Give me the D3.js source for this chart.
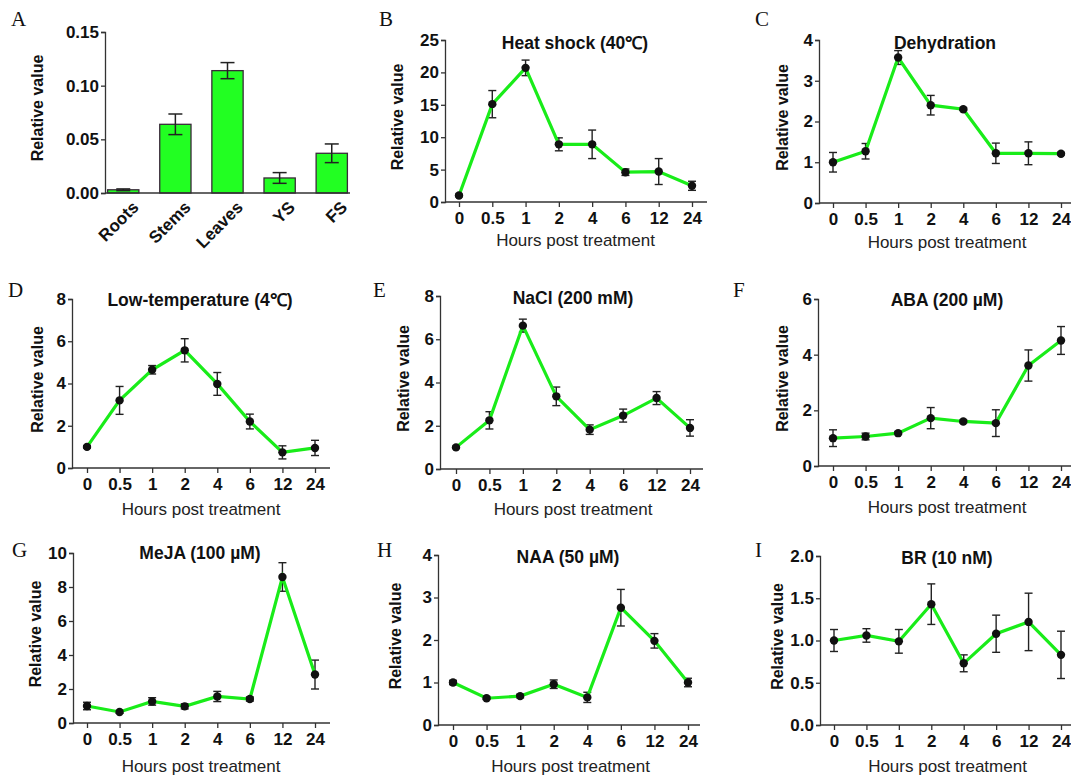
<!doctype html>
<html>
<head>
<meta charset="utf-8">
<script src="https://d3js.org/d3.v7.min.js"></script>
<style>
    body { margin: 0; background: #fff; }
    text { font-family: "Liberation Sans", Arial, sans-serif; }
    .tick text { font-size: 17px; font-weight: bold; fill: #111; }
    .domain, .tick line { stroke: #333; stroke-width: 1.3px; }
    .plabel { font-family: "Liberation Serif", "Times New Roman", serif; font-size: 21px; fill: #111; }
</style>
</head>
<body>
<svg width="1071" height="778"></svg>
<script>
    // tick labels and categories
    var hours = ["0", "0.5", "1", "2", "4", "6", "12", "24"];
    var tissues = ["Roots", "Stems", "Leaves", "YS", "FS"];

    // panel A
    var tissueMean = [0.003, 0.064, 0.114, 0.014, 0.037];
    var tissueErr = [0.0008, 0.0096, 0.0075, 0.005, 0.0087];
    var tissueTicks = [0, 0.05, 0.10, 0.15];

    // panels B-I
    var heatMean = [1.0, 15.1, 20.7, 8.9, 8.9, 4.6, 4.7, 2.5];
    var heatErr = [0.2, 2.1, 1.2, 1.0, 2.2, 0.5, 2.0, 0.7];
    var heatTicks = [0, 5, 10, 15, 20, 25];

    var dehyMean = [1.0, 1.27, 3.57, 2.4, 2.3, 1.22, 1.22, 1.21];
    var dehyErr = [0.24, 0.19, 0.17, 0.24, 0.03, 0.25, 0.28, 0.03];
    var dehyTicks = [0, 1, 2, 3, 4];

    var coldMean = [1.0, 3.2, 4.65, 5.57, 3.98, 2.2, 0.74, 0.95];
    var coldErr = [0.05, 0.66, 0.2, 0.55, 0.54, 0.35, 0.31, 0.36];
    var coldTicks = [0, 2, 4, 6, 8];

    var naclMean = [1.0, 2.25, 6.63, 3.36, 1.82, 2.47, 3.28, 1.9];
    var naclErr = [0.05, 0.4, 0.3, 0.43, 0.22, 0.3, 0.3, 0.38];
    var naclTicks = [0, 2, 4, 6, 8];

    var abaMean = [1.0, 1.06, 1.18, 1.72, 1.6, 1.54, 3.61, 4.51];
    var abaErr = [0.3, 0.12, 0.05, 0.38, 0.05, 0.48, 0.56, 0.5];
    var abaTicks = [0, 2, 4, 6];

    var mejaMean = [1.0, 0.65, 1.27, 0.98, 1.56, 1.41, 8.59, 2.85];
    var mejaErr = [0.22, 0.08, 0.22, 0.15, 0.3, 0.12, 0.84, 0.85];
    var mejaTicks = [0, 2, 4, 6, 8, 10];

    var naaMean = [1.0, 0.63, 0.68, 0.96, 0.65, 2.76, 1.98, 1.0];
    var naaErr = [0.05, 0.03, 0.04, 0.1, 0.12, 0.43, 0.17, 0.1];
    var naaTicks = [0, 1, 2, 3, 4];

    var brMean = [1.0, 1.06, 0.99, 1.43, 0.73, 1.08, 1.22, 0.83];
    var brErr = [0.13, 0.08, 0.14, 0.24, 0.1, 0.22, 0.34, 0.28];
    var brTicks = [0, 0.5, 1.0, 1.5, 2.0];

    var green = "#19ec19";
    var svg = d3.select("svg");

    function yAxisLabel(x, y) {
        svg.append("text")
           .attr("transform", "translate(" + x + "," + y + ") rotate(-90)")
           .attr("dy", "0.35em")
           .attr("text-anchor", "middle")
           .attr("font-size", "16px")
           .attr("font-weight", "bold")
           .attr("fill", "#111")
           .text("Relative value");
    }

    function panelLabel(x, y, s) {
        svg.append("text").attr("class", "plabel").attr("x", x).attr("y", y).text(s);
    }

    // ---- panel A: bars ----
    (function() {
        var ax = 105, top = 32, bottom = 193, end = 350;
        var x = d3.scaleBand().domain(tissues).range([ax, end]).paddingInner(0.4).paddingOuter(0.05);
        var y = d3.scaleLinear().domain([0, 0.15]).range([bottom, top]);
        var g = svg.append("g");

        g.append("g")
         .attr("transform", "translate(" + ax + ",0)")
         .call(d3.axisLeft(y).tickValues(tissueTicks).tickFormat(d3.format(".2f")).tickSize(4).tickSizeOuter(4).tickPadding(2));

        g.selectAll(".bar")
         .data(tissues)
         .enter().append("rect")
         .attr("x", function(d) { return x(d); })
         .attr("y", function(d, i) { return y(tissueMean[i]); })
         .attr("width", x.bandwidth())
         .attr("height", function(d, i) { return bottom - y(tissueMean[i]); })
         .attr("fill", "#22ff22")
         .attr("stroke", "#3a2a3a")
         .attr("stroke-width", 1.3);

        var eb = g.selectAll(".err").data(tissues).enter().append("g");
        eb.append("line")
          .attr("x1", function(d) { return x(d) + x.bandwidth() / 2; })
          .attr("x2", function(d) { return x(d) + x.bandwidth() / 2; })
          .attr("y1", function(d, i) { return y(tissueMean[i] - tissueErr[i]); })
          .attr("y2", function(d, i) { return y(tissueMean[i] + tissueErr[i]); });
        [1, -1].forEach(function(s) {
            eb.append("line")
              .attr("x1", function(d) { return x(d) + x.bandwidth() / 2 - 7; })
              .attr("x2", function(d) { return x(d) + x.bandwidth() / 2 + 7; })
              .attr("y1", function(d, i) { return y(tissueMean[i] + s * tissueErr[i]); })
              .attr("y2", function(d, i) { return y(tissueMean[i] + s * tissueErr[i]); });
        });
        eb.selectAll("line").attr("stroke", "#222").attr("stroke-width", 1.5);

        g.append("line")
         .attr("x1", ax).attr("x2", end).attr("y1", bottom).attr("y2", bottom)
         .attr("stroke", "#333").attr("stroke-width", 1.3);

        g.selectAll(".cat")
         .data(tissues)
         .enter().append("text")
         .attr("transform", function(d) { return "translate(" + (x(d) + x.bandwidth() / 2 + 8) + "," + (bottom + 7) + ") rotate(-45)"; })
         .attr("text-anchor", "end")
         .attr("dy", "0.7em")
         .attr("font-size", "17px")
         .attr("font-weight", "bold")
         .attr("fill", "#111")
         .text(function(d) { return d; });

        yAxisLabel(37, 108);
        panelLabel(11, 26, "A");
    })();

    // ---- panels B-I: lines ----
    var panels = [
        { id: "B", title: "Heat shock (40℃)", mean: heatMean, err: heatErr, ticks: heatTicks, fmt: "d",
          ax: 445, top: 40, bottom: 202, x0: 459, x1: 692, end: 707, tx: 575, ty: 49, lx: 397, xt: 246, px: 379, py: 26 },
        { id: "C", title: "Dehydration", mean: dehyMean, err: dehyErr, ticks: dehyTicks, fmt: "d",
          ax: 819, top: 40, bottom: 203, x0: 833, x1: 1061, end: 1071, tx: 945, ty: 49, lx: 782, xt: 248, px: 755, py: 26 },
        { id: "D", title: "Low-temperature (4℃)", mean: coldMean, err: coldErr, ticks: coldTicks, fmt: "d",
          ax: 72, top: 299, bottom: 468, x0: 87, x1: 315, end: 330, tx: 200, ty: 306, lx: 37, xt: 515, px: 8, py: 297 },
        { id: "E", title: "NaCl (200 mM)", mean: naclMean, err: naclErr, ticks: naclTicks, fmt: "d",
          ax: 440, top: 296, bottom: 469, x0: 456, x1: 690, end: 703, tx: 573, ty: 304, lx: 403, xt: 515, px: 373, py: 297 },
        { id: "F", title: "ABA (200 µM)", mean: abaMean, err: abaErr, ticks: abaTicks, fmt: "d",
          ax: 818, top: 299, bottom: 466, x0: 833, x1: 1061, end: 1071, tx: 947, ty: 306, lx: 782, xt: 513, px: 733, py: 297 },
        { id: "G", title: "MeJA (100 µM)", mean: mejaMean, err: mejaErr, ticks: mejaTicks, fmt: "d",
          ax: 73, top: 553, bottom: 723, x0: 87, x1: 315, end: 330, tx: 200, ty: 559, lx: 35, xt: 772, px: 12, py: 557 },
        { id: "H", title: "NAA (50 µM)", mean: naaMean, err: naaErr, ticks: naaTicks, fmt: "d",
          ax: 438, top: 555, bottom: 725, x0: 453, x1: 688, end: 700, tx: 568, ty: 563, lx: 395, xt: 772, px: 377, py: 557 },
        { id: "I", title: "BR (10 nM)", mean: brMean, err: brErr, ticks: brTicks, fmt: ".1f",
          ax: 820, top: 556, bottom: 725, x0: 834, x1: 1061, end: 1071, tx: 947, ty: 564, lx: 777, xt: 772, px: 755, py: 557 }
    ];

    panels.forEach(function(p) {
        var x = d3.scalePoint().domain(hours).range([p.x0, p.x1]);
        var y = d3.scaleLinear().domain([0, d3.max(p.ticks)]).range([p.bottom, p.top]);
        var g = svg.append("g");

        g.append("g")
         .attr("transform", "translate(" + p.ax + ",0)")
         .call(d3.axisLeft(y).tickValues(p.ticks).tickFormat(d3.format(p.fmt)).tickSize(4).tickSizeOuter(4).tickPadding(2));

        var xa = g.append("g")
         .attr("transform", "translate(0," + p.bottom + ")")
         .call(d3.axisBottom(x).tickSize(5).tickPadding(5));
        xa.select(".domain").remove();
        g.append("line")
         .attr("x1", p.ax).attr("x2", p.end).attr("y1", p.bottom).attr("y2", p.bottom)
         .attr("stroke", "#333").attr("stroke-width", 1.3);

        // error bars
        var eb = g.append("g").attr("stroke", "#222").attr("stroke-width", 1.4);
        hours.forEach(function(h, i) {
            var cx = x(h), hi = y(p.mean[i] + p.err[i]), lo = y(p.mean[i] - p.err[i]);
            eb.append("line").attr("x1", cx).attr("x2", cx).attr("y1", lo).attr("y2", hi);
            eb.append("line").attr("x1", cx - 4).attr("x2", cx + 4).attr("y1", lo).attr("y2", lo);
            eb.append("line").attr("x1", cx - 4).attr("x2", cx + 4).attr("y1", hi).attr("y2", hi);
        });

        var line = d3.line()
            .x(function(d) { return x(d); })
            .y(function(d, i) { return y(p.mean[i]); });
        g.append("path")
         .datum(hours)
         .attr("d", line)
         .attr("fill", "none")
         .attr("stroke", green)
         .attr("stroke-width", 3.2);

        g.selectAll(".pt")
         .data(hours)
         .enter().append("circle")
         .attr("cx", function(d) { return x(d); })
         .attr("cy", function(d, i) { return y(p.mean[i]); })
         .attr("r", 4.2)
         .attr("fill", "#111");

        g.append("text")
         .attr("x", p.tx).attr("y", p.ty)
         .attr("text-anchor", "middle")
         .attr("font-size", "17.5px")
         .attr("font-weight", "bold")
         .attr("fill", "#111")
         .text(p.title);

        g.append("text")
         .attr("x", (p.x0 + p.x1) / 2).attr("y", p.xt)
         .attr("text-anchor", "middle")
         .attr("font-size", "17px")
         .attr("fill", "#222")
         .text("Hours post treatment");

        yAxisLabel(p.lx, (p.top + p.bottom) / 2 - 4);
        panelLabel(p.px, p.py, p.id);
    });
</script>
</body>
</html>
